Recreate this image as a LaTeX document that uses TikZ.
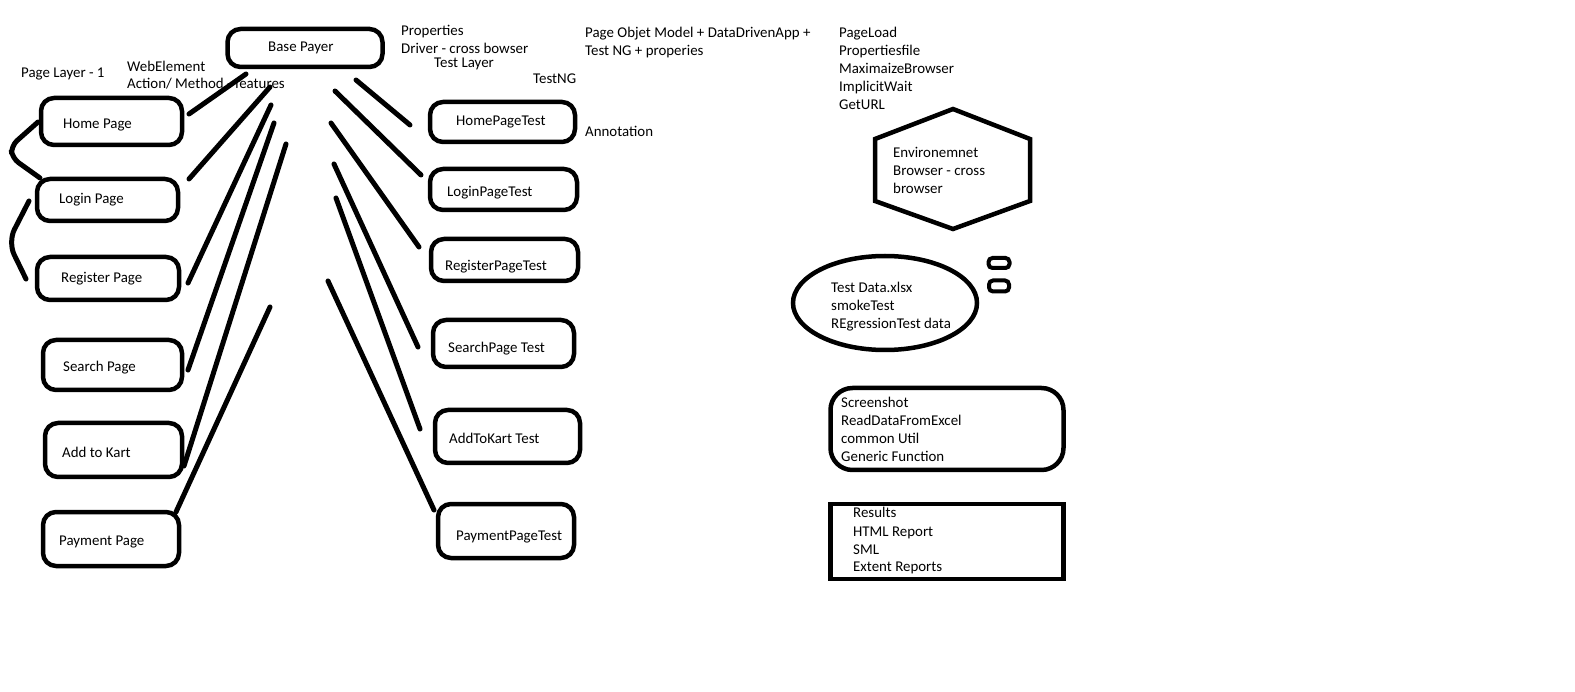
\documentclass[tikz,border=0pt]{standalone}
\usepackage{fontspec}
\setmainfont{Carlito}
\begin{document}
\begin{tikzpicture}[x=1pt,y=-1pt]
\tikzset{
  pbox/.style={draw, line width=4.5, rounded corners=13, inner sep=0},
  sbox/.style={draw, line width=4.5, inner sep=0},
  txt/.style={anchor=base west, inner sep=0, font=\fontsize{14.9}{18}\selectfont},
  conn/.style={line width=5, line cap=round}
}
\useasboundingbox (0,0) rectangle (1575,692);
\fill[white] (0,0) rectangle (1575,692);

% boxes (page layer)
\node[pbox, minimum width=155, minimum height=38] (base) at (305,48) {};
\node[pbox, minimum width=141, minimum height=47] (home) at (111.5,121.5) {};
\node[pbox, minimum width=141, minimum height=42] (login) at (107.5,200) {};
\node[pbox, minimum width=142, minimum height=43] (reg) at (108,278.5) {};
\node[pbox, minimum width=139, minimum height=50] (search) at (112.5,365) {};
\node[pbox, minimum width=137, minimum height=54] (kart) at (113.5,450) {};
\node[pbox, minimum width=136, minimum height=54] (pay) at (111,539) {};
% test layer
\node[pbox, minimum width=145, minimum height=40] (thome) at (502.5,122) {};
\node[pbox, minimum width=147, minimum height=41] (tlogin) at (503.5,189.5) {};
\node[pbox, minimum width=147, minimum height=42] (treg) at (504.5,260) {};
\node[pbox, minimum width=141, minimum height=47] (tsearch) at (503.5,343.5) {};
\node[pbox, minimum width=145, minimum height=53] (tkart) at (507.5,436.5) {};
\node[pbox, minimum width=136, minimum height=54] (tpay) at (506,531) {};

% texts in boxes
\node[txt] (lbase) at (268,52) {Base Payer};
\node[txt] (lhome) at (63,129) {Home Page};
\node[txt] (llogin) at (59,204) {Login Page};
\node[txt] (lreg) at (61,283) {Register Page};
\node[txt] (lsearch) at (63,372) {Search Page};
\node[txt] (lkart) at (62,457) {Add to Kart};
\node[txt] (lpay) at (59,545) {Payment Page};
\node[txt] (lthome) at (456,126) {HomePageTest};
\node[txt] (ltlogin) at (447,197) {LoginPageTest};
\node[txt] (ltreg) at (445,271) {RegisterPageTest};
\node[txt] (ltsearch) at (448,353) {SearchPage Test};
\node[txt] (ltkart) at (449,444) {AddToKart Test};
\node[txt] (ltpay) at (456,540) {PaymentPageTest};

% free texts
\node[txt] (props) at (401,36) {Properties};
\node[txt] (driver) at (401,54) {Driver - cross bowser};
\node[txt] (testlayer) at (434,68) {Test Layer};
\node[txt] (testng) at (533,84) {TestNG};
\node[txt] (pagelayer) at (21,78) {Page Layer - 1};
\node[txt] (webel) at (127,72) {WebElement};
\node[txt] (action) at (127,89) {Action/ Method - features};
\node[txt] (pom) at (585,38) {\begin{tabular}[t]{@{}l@{}}Page Objet Model + DataDrivenApp +\\Test NG + properies\end{tabular}};
\node[txt] (annot) at (585,137) {Annotation};
\node[txt] (pageload) at (839,38) {\begin{tabular}[t]{@{}l@{}}PageLoad\\Propertiesfile\\MaximaizeBrowser\\ImplicitWait\\GetURL\end{tabular}};

% hexagon
\draw[line width=4.5] (953,109) -- (1030,139) -- (1030,201) -- (953,229) -- (875,201) -- (875,139) -- cycle;
\node[txt] (env) at (893,158) {\begin{tabular}[t]{@{}l@{}}Environemnet\\Browser - cross\\browser\end{tabular}};

% ellipse and small boxes
\draw[line width=4.5] (885,303) ellipse [x radius=92, y radius=47];
\node[txt] (tdata) at (831,293) {\begin{tabular}[t]{@{}l@{}}Test Data.xlsx\\smokeTest\\REgressionTest data\end{tabular}};
\node[draw, line width=4, rounded corners=4, minimum width=21, minimum height=10, inner sep=0] (sb1) at (999,263) {};
\node[draw, line width=4, rounded corners=4, minimum width=20, minimum height=11, inner sep=0] (sb2) at (999,286) {};

% util box
\node[pbox, rounded corners=22, minimum width=233, minimum height=82] (util) at (947,429) {};
\node[txt] (utiltxt) at (841,408) {\begin{tabular}[t]{@{}l@{}}Screenshot\\ReadDataFromExcel\\common Util\\Generic Function\end{tabular}};

% results box
\node[sbox, minimum width=233, minimum height=75] (res) at (947,541.5) {};
\node[txt] (restxt) at (853,518) {\begin{tabular}[t]{@{}l@{}}Results\\HTML Report\\SML\\Extent Reports\end{tabular}};

% connector coordinates (left)
\coordinate (a1) at (189,114); \coordinate (b1) at (246,74);
\coordinate (a2) at (189,179); \coordinate (b2) at (270,87);
\coordinate (a3) at (188,283); \coordinate (b3) at (271,105);
\coordinate (a4) at (188,370); \coordinate (b4) at (274,123);
\coordinate (a5) at (184,466); \coordinate (b5) at (286,144);
\coordinate (a6) at (176,512); \coordinate (b6) at (270,307);
% right
\coordinate (c1) at (356,80); \coordinate (d1) at (410,125);
\coordinate (c2) at (335,91); \coordinate (d2) at (421,175);
\coordinate (c3) at (331,123); \coordinate (d3) at (419,247);
\coordinate (c4) at (334,164); \coordinate (d4) at (418,347);
\coordinate (c5) at (336,198); \coordinate (d5) at (420,429);
\coordinate (c6) at (328,281); \coordinate (d6) at (434,510);

\foreach \i in {1,...,6} {
  \draw[conn] (a\i) -- (b\i);
  \draw[conn] (c\i) -- (d\i);
}

% side curves
\coordinate (h1) at (38,122); \coordinate (h2) at (40,178);
\coordinate (g1) at (29,201); \coordinate (g2) at (26,279);
\draw[conn, rounded corners=8] (h1) -- (11,146) -- (12,158) -- (h2);
\draw[conn, rounded corners=14] (g1) -- (8,242) -- (g2);
\end{tikzpicture}
\end{document}
